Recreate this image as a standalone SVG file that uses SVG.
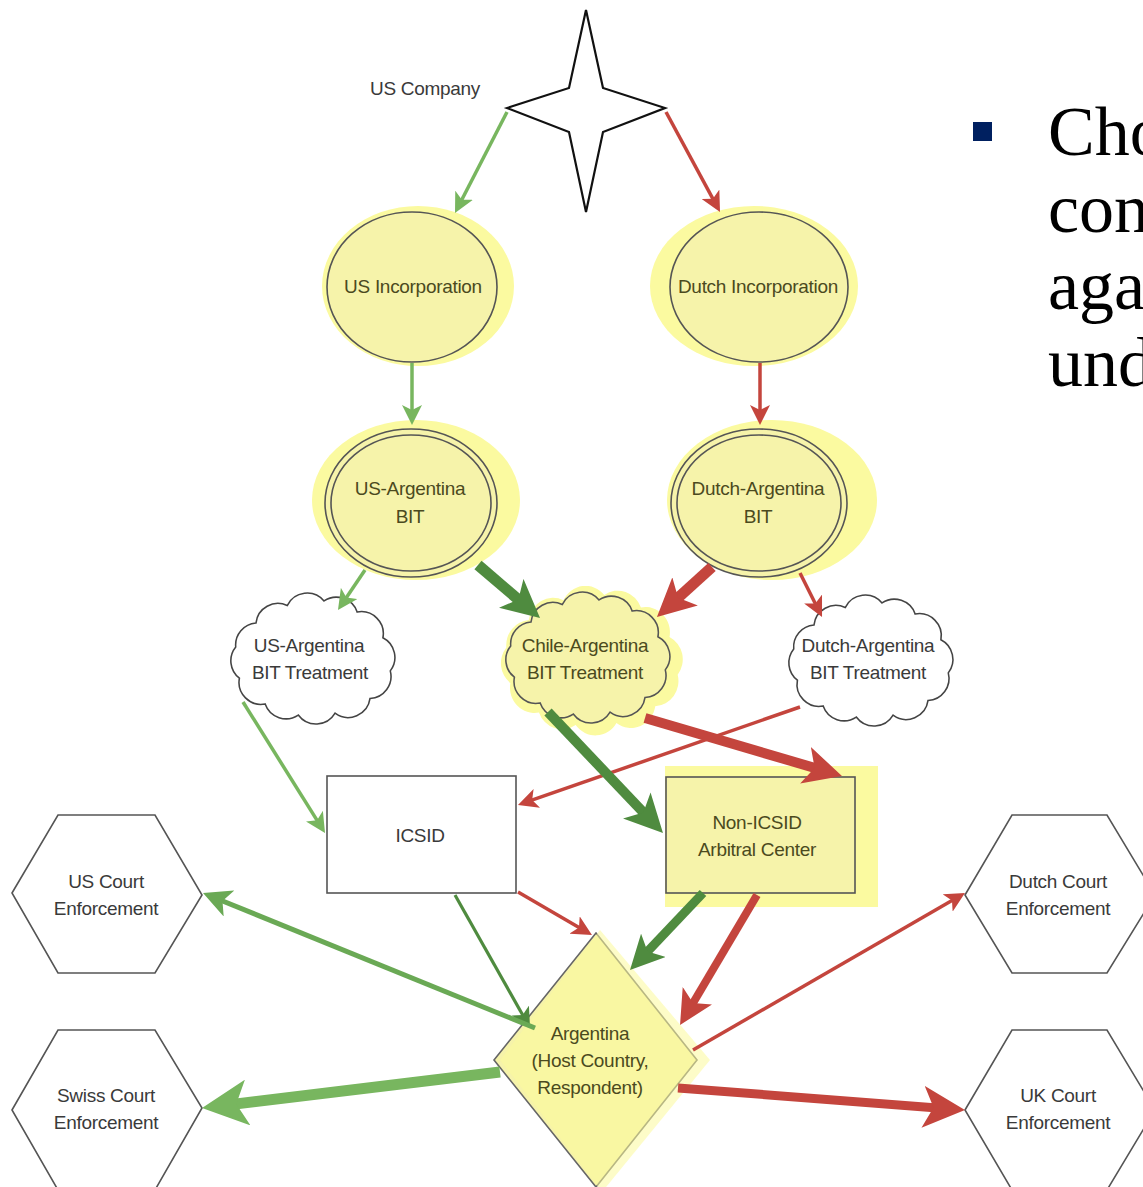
<svg xmlns="http://www.w3.org/2000/svg" width="1143" height="1187" viewBox="0 0 1143 1187">
<style>
.t{font-family:"Liberation Sans",Arial,sans-serif;font-size:19px;text-anchor:middle;letter-spacing:-0.3px}
.ty{fill:#4b4a1e}
.tw{fill:#3a3a3a}
.ns{stroke:#555;stroke-width:1.6}
.nf{fill:#f6f3aa}
.halo{fill:#fbfaa0}
.wf{fill:#ffffff}
.c{fill:none;stroke-linecap:butt}
.lg{stroke:#78b65f}
.mg{stroke:#6aa955}
.dg{stroke:#4f8b3f}
.rd{stroke:#c4453d}
.big{font-family:"Liberation Serif","Times New Roman",serif;font-size:70px;fill:#000}
</style>
<defs>
<marker id="lg20" viewBox="0 0 20 20" refX="13" refY="10" markerWidth="20" markerHeight="20" markerUnits="userSpaceOnUse" orient="auto"><path d="M0,0 L20,10 L0,20 L5,10 Z" fill="#78b65f"/></marker>
<marker id="rd20" viewBox="0 0 20 20" refX="13" refY="10" markerWidth="20" markerHeight="20" markerUnits="userSpaceOnUse" orient="auto"><path d="M0,0 L20,10 L0,20 L5,10 Z" fill="#c4453d"/></marker>
<marker id="dg20" viewBox="0 0 20 20" refX="13" refY="10" markerWidth="20" markerHeight="20" markerUnits="userSpaceOnUse" orient="auto"><path d="M0,0 L20,10 L0,20 L5,10 Z" fill="#4f8b3f"/></marker>
<marker id="dg38" viewBox="0 0 20 20" refX="13" refY="10" markerWidth="38" markerHeight="38" markerUnits="userSpaceOnUse" orient="auto"><path d="M0,0 L20,10 L0,20 L5,10 Z" fill="#4f8b3f"/></marker>
<marker id="rd38" viewBox="0 0 20 20" refX="13" refY="10" markerWidth="38" markerHeight="38" markerUnits="userSpaceOnUse" orient="auto"><path d="M0,0 L20,10 L0,20 L5,10 Z" fill="#c4453d"/></marker>
<marker id="dg34" viewBox="0 0 20 20" refX="13" refY="10" markerWidth="34" markerHeight="34" markerUnits="userSpaceOnUse" orient="auto"><path d="M0,0 L20,10 L0,20 L5,10 Z" fill="#4f8b3f"/></marker>
<marker id="rd34" viewBox="0 0 20 20" refX="13" refY="10" markerWidth="34" markerHeight="34" markerUnits="userSpaceOnUse" orient="auto"><path d="M0,0 L20,10 L0,20 L5,10 Z" fill="#c4453d"/></marker>
<marker id="mg28" viewBox="0 0 20 20" refX="13" refY="10" markerWidth="28" markerHeight="28" markerUnits="userSpaceOnUse" orient="auto"><path d="M0,0 L20,10 L0,20 L5,10 Z" fill="#6aa955"/></marker>
<marker id="lg46" viewBox="0 0 20 20" refX="13" refY="10" markerWidth="46" markerHeight="46" markerUnits="userSpaceOnUse" orient="auto"><path d="M0,0 L20,10 L0,20 L5,10 Z" fill="#78b65f"/></marker>
<marker id="rd42" viewBox="0 0 20 20" refX="13" refY="10" markerWidth="42" markerHeight="42" markerUnits="userSpaceOnUse" orient="auto"><path d="M0,0 L20,10 L0,20 L5,10 Z" fill="#c4453d"/></marker>
<path id="cloud" d="M-62,-38 A24,24 0 0 1 -28,-57 A24,24 0 0 1 12,-62 A24,24 0 0 1 48,-50 A24,24 0 0 1 76,-22 A24,24 0 0 1 84,14 A24,24 0 0 1 62,44 A24,24 0 0 1 24,60 A24,24 0 0 1 -16,62 A24,24 0 0 1 -52,50 A24,24 0 0 1 -80,22 A24,24 0 0 1 -84,-12 A24,24 0 0 1 -62,-38 Z"/>
</defs>
<rect width="1143" height="1187" fill="#ffffff"/>

<g id="us-company">
<polygon points="586,10 603,88 665,108 603,132 586,212 569,132 507,108 569,88" fill="#ffffff" stroke="#111" stroke-width="2.2" stroke-linejoin="miter"/>
<text class="t tw" x="425" y="95">US Company</text>
</g>

<g id="us-incorporation">
<ellipse class="halo" cx="418" cy="286" rx="96" ry="80"/>
<ellipse class="nf ns" cx="412" cy="287" rx="85" ry="75"/>
<text class="t ty" x="413" y="293">US Incorporation</text>
</g>

<g id="dutch-incorporation">
<ellipse class="halo" cx="754" cy="286" rx="104" ry="80"/>
<ellipse class="nf ns" cx="759" cy="287" rx="89" ry="75"/>
<text class="t ty" x="758" y="293">Dutch Incorporation</text>
</g>

<g id="us-argentina-bit">
<ellipse class="halo" cx="416" cy="500" rx="104" ry="80"/>
<ellipse class="nf ns" cx="411" cy="503" rx="86" ry="74"/>
<ellipse fill="none" class="ns" cx="411" cy="503" rx="80" ry="68"/>
<text class="t ty" x="410" y="495">US-Argentina</text>
<text class="t ty" x="410" y="523">BIT</text>
</g>

<g id="dutch-argentina-bit">
<ellipse class="halo" cx="772" cy="500" rx="105" ry="80"/>
<ellipse class="nf ns" cx="759" cy="503" rx="88" ry="74"/>
<ellipse fill="none" class="ns" cx="759" cy="503" rx="82" ry="68"/>
<text class="t ty" x="758" y="495">Dutch-Argentina</text>
<text class="t ty" x="758" y="523">BIT</text>
</g>

<g id="us-argentina-bit-treatment">
<use href="#cloud" transform="translate(313,658) scale(0.92,0.92)" fill="#ffffff" stroke="#444" stroke-width="1.7"/>
<text class="t tw" x="309" y="652">US-Argentina</text>
<text class="t tw" x="310" y="679">BIT Treatment</text>
</g>

<g id="chile-argentina-bit-treatment">
<use href="#cloud" transform="translate(592,660) scale(1.02,1.05)" class="halo"/>
<use href="#cloud" transform="translate(588,657) scale(0.92,0.92)" fill="#f6f3aa" stroke="#555" stroke-width="1.7"/>
<text class="t ty" x="585" y="652">Chile-Argentina</text>
<text class="t ty" x="585" y="679">BIT Treatment</text>
</g>

<g id="dutch-argentina-bit-treatment">
<use href="#cloud" transform="translate(871,660) scale(0.92,0.92)" fill="#ffffff" stroke="#444" stroke-width="1.7"/>
<text class="t tw" x="868" y="652">Dutch-Argentina</text>
<text class="t tw" x="868" y="679">BIT Treatment</text>
</g>

<g id="icsid">
<rect class="wf ns" x="327" y="776" width="189" height="117"/>
<text class="t tw" x="420" y="842">ICSID</text>
</g>

<g id="non-icsid">
<rect class="halo" x="665" y="766" width="213" height="141"/>
<rect class="nf ns" x="666" y="777" width="189" height="116"/>
<text class="t ty" x="757" y="829">Non-ICSID</text>
<text class="t ty" x="757" y="856">Arbitral Center</text>
</g>

<g id="us-court">
<polygon class="wf ns" points="12,893 58,815 155,815 202,895 155,973 58,973"/>
<text class="t tw" x="106" y="888">US Court</text>
<text class="t tw" x="106" y="915">Enforcement</text>
</g>

<g id="swiss-court">
<polygon class="wf ns" points="12,1110 58,1030 155,1030 202,1108 155,1190 58,1190"/>
<text class="t tw" x="106" y="1102">Swiss Court</text>
<text class="t tw" x="106" y="1129">Enforcement</text>
</g>

<g id="dutch-court">
<polygon class="wf ns" points="965,895 1012,815 1107,815 1155,895 1107,973 1012,973"/>
<text class="t tw" x="1058" y="888">Dutch Court</text>
<text class="t tw" x="1058" y="915">Enforcement</text>
</g>

<g id="uk-court">
<polygon class="wf ns" points="965,1110 1012,1030 1107,1030 1155,1110 1107,1190 1012,1190"/>
<text class="t tw" x="1058" y="1102">UK Court</text>
<text class="t tw" x="1058" y="1129">Enforcement</text>
</g>

<g id="argentina">
<polygon points="596,933 697,1060 596,1187 494,1060" fill="#f6f3aa" stroke="#666" stroke-width="1.6"/>
<polygon points="600,930 710,1060 602,1192 500,1060" fill="#fbfa9a" opacity="0.55"/>
<text class="t ty" x="590" y="1040">Argentina</text>
<text class="t ty" x="590" y="1067">(Host Country,</text>
<text class="t ty" x="590" y="1094">Respondent)</text>
</g>

<g id="connectors">
<line class="c lg" x1="507" y1="112" x2="458.2" y2="206.8" stroke-width="3.5" marker-end="url(#lg20)"/>
<line class="c rd" x1="666" y1="112" x2="716.7" y2="205.8" stroke-width="3.5" marker-end="url(#rd20)"/>
<line class="c lg" x1="412" y1="363" x2="412" y2="418" stroke-width="3.5" marker-end="url(#lg20)"/>
<line class="c rd" x1="760" y1="363" x2="760" y2="418" stroke-width="3.5" marker-end="url(#rd20)"/>
<line class="c lg" x1="365" y1="570" x2="341.9" y2="604.2" stroke-width="3.5" marker-end="url(#lg20)"/>
<line class="c dg" x1="478" y1="565" x2="529.9" y2="609.4" stroke-width="11" marker-end="url(#dg38)"/>
<line class="c rd" x1="712" y1="567" x2="666.8" y2="608" stroke-width="11" marker-end="url(#rd38)"/>
<line class="c rd" x1="800" y1="573" x2="818.9" y2="610.7" stroke-width="3.5" marker-end="url(#rd20)"/>
<line class="c lg" x1="243" y1="702" x2="321.3" y2="827.1" stroke-width="3.5" marker-end="url(#lg20)"/>
<line class="c rd" x1="800" y1="707" x2="524.6" y2="802.7" stroke-width="3.5" marker-end="url(#rd20)"/>
<line class="c rd" x1="645" y1="718" x2="829.2" y2="772.2" stroke-width="10" marker-end="url(#rd38)"/>
<line class="c dg" x1="548" y1="712" x2="653.8" y2="823.4" stroke-width="10" marker-end="url(#dg38)"/>
<line class="c dg" x1="455" y1="895" x2="526.6" y2="1021.9" stroke-width="3.2" marker-end="url(#dg20)"/>
<line class="c rd" x1="518" y1="892" x2="585.9" y2="931.5" stroke-width="3.5" marker-end="url(#rd20)"/>
<line class="c dg" x1="703" y1="893" x2="638.2" y2="961.4" stroke-width="9" marker-end="url(#dg34)"/>
<line class="c rd" x1="757" y1="895" x2="686.1" y2="1014.8" stroke-width="8" marker-end="url(#rd34)"/>
<line class="c mg" x1="535" y1="1028" x2="212.1" y2="896.7" stroke-width="5" marker-end="url(#mg28)"/>
<line class="c lg" x1="500" y1="1072" x2="218" y2="1106.1" stroke-width="11" marker-end="url(#lg46)"/>
<line class="c rd" x1="693" y1="1050" x2="958.9" y2="896.5" stroke-width="3.5" marker-end="url(#rd20)"/>
<line class="c rd" x1="678" y1="1088" x2="950.3" y2="1108.9" stroke-width="9" marker-end="url(#rd42)"/>
</g>

<g id="bullet-text">
<rect x="973" y="122" width="19" height="19" fill="#002060"/>
<text class="big" x="1048" y="155">Cho</text>
<text class="big" x="1048" y="232">con</text>
<text class="big" x="1048" y="309">aga</text>
<text class="big" x="1048" y="386">und</text>
</g>
</svg>
